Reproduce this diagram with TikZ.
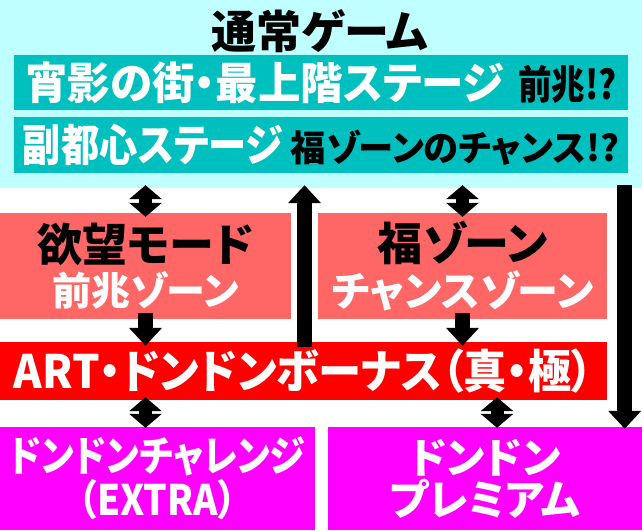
\documentclass[tikz,border=0pt]{standalone}
\usepackage{fontspec}
\setmainfont{Noto Sans CJK JP}[RawFeature=+palt]
\usepackage{graphicx}
\usetikzlibrary{arrows.meta,calc}

\definecolor{palecyan}{HTML}{C0FFFF}
\definecolor{teal}{HTML}{00BFBF}
\definecolor{salmon}{HTML}{FF6666}
\definecolor{artred}{HTML}{FF0000}
\definecolor{pink}{HTML}{FF00FF}

\newcommand{\narrow}[2]{\scalebox{#1}[1]{#2}}
\newcommand{\fs}[1]{\fontsize{#1}{#1}\selectfont}

\begin{document}
\begin{tikzpicture}[x=1pt,y=-1pt]
	\tikzset{box/.style={rectangle, inner sep=0pt, align=center, font=\bfseries}}
	\tikzset{arrow/.style={draw, line width=15pt, -{Triangle[width=32pt,length=18pt]}}}
	\tikzset{twoway/.style={draw, line width=13pt, {Triangle[width=32pt,length=14pt]}-{Triangle[width=32pt,length=14pt]}}}
	
	\useasboundingbox (0,0) rectangle (642,530);
	
	\node[box, fill=palecyan, minimum width=642pt, minimum height=188pt] (normal) at (321,94) {};
	\node[box] (title) at (320,31) {\fs{45}通常ゲーム};
	\node[box, fill=teal, minimum width=614pt, minimum height=55pt] (stage1) at (321,82.5) {{\color{white}\fs{44}\narrow{0.965}{宵影の街・最上階ステージ}}\hspace{14pt}{\fs{40}\narrow{0.84}{前兆!?}}};
	\node[box, fill=teal, minimum width=614pt, minimum height=56pt] (stage2) at (321,145) {{\color{white}\fs{44}\narrow{0.87}{副都心ステージ}}\hspace{8pt}{\fs{36}\narrow{0.98}{福ゾーンのチャンス!?}}};
	
	\node[box, fill=salmon, minimum width=291pt, minimum height=106pt] (yoku) at (145.5,266) {\fs{45}欲望モード\\[4pt]{\color{white}\fs{39}前兆ゾーン}};
	\node[box, fill=salmon, minimum width=289pt, minimum height=106pt] (fuku) at (462.5,266) {\fs{45}福ゾーン\\[4pt]{\color{white}\fs{41}チャンスゾーン}};
	
	\node[box, fill=artred, text=white, minimum width=607pt, minimum height=58pt] (art) at (303.5,371) {\fs{46}\narrow{0.94}{ART・ドンドンボーナス（真・極）}};
	
	\node[box, fill=pink, text=white, minimum width=315pt, minimum height=103pt] (extra) at (157.5,478.5) {\fs{42}\narrow{0.86}{ドンドンチャレンジ}\\[2pt]\fs{42}\narrow{0.88}{（EXTRA）}};
	\node[box, fill=pink, text=white, minimum width=314pt, minimum height=103pt] (prem) at (485,478.5) {\fs{42}ドンドン\\[2pt]\fs{42}プレミアム};
	
	\coordinate (gap) at ($(yoku.east)!.5!(fuku.west)$);
	\coordinate (side) at ($(art.east)!.5!(normal.east)$);
	
	\draw[twoway] ([yshift=3pt]yoku |- normal.south) -- ([yshift=-4pt]yoku.north);
	\draw[twoway] ([yshift=3pt]fuku |- normal.south) -- ([yshift=-4pt]fuku.north);
	\draw[arrow] ([yshift=6pt]yoku.south) -- ([yshift=-4pt]yoku |- art.north);
	\draw[arrow] ([yshift=6pt]fuku.south) -- ([yshift=-4pt]fuku |- art.north);
	\draw[arrow] ([yshift=-5pt]gap |- art.north) -- ([yshift=3pt]gap |- normal.south);
	\draw[arrow] ([yshift=3pt]side |- normal.south) -- ([yshift=-2pt]side |- prem.north);
	\draw[twoway] ([yshift=3pt]yoku |- art.south) -- ([yshift=-1pt]yoku |- extra.north);
	\draw[twoway] ([xshift=12pt,yshift=3pt]prem |- art.south) -- ([xshift=12pt,yshift=-1pt]prem.north);
\end{tikzpicture}
\end{document}
